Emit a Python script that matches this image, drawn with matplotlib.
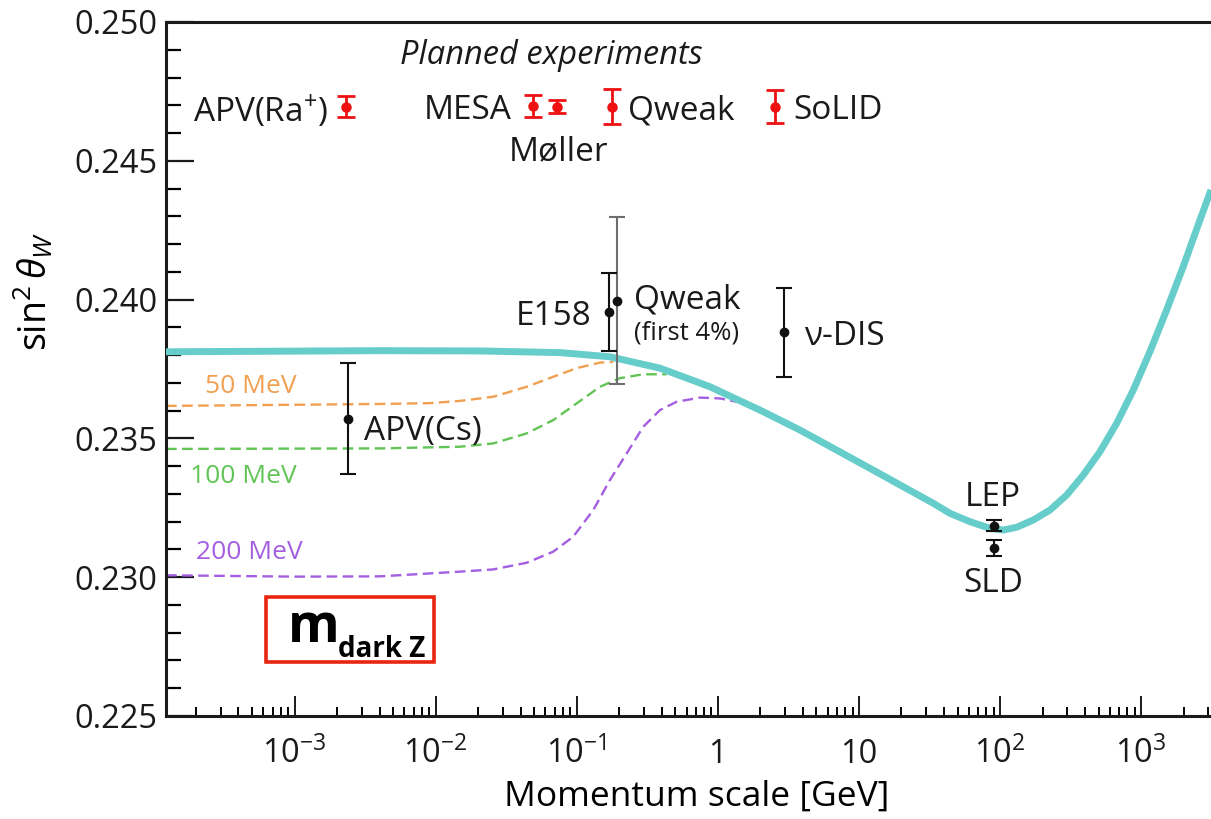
import numpy as np
import matplotlib
matplotlib.use('Agg')
import matplotlib.pyplot as plt
from matplotlib.ticker import FixedLocator, MultipleLocator, LogLocator, NullFormatter, FormatStrFormatter
from matplotlib.patches import Rectangle

plt.rcParams['font.family'] = ['Open Sans', 'DejaVu Sans']
plt.rcParams['mathtext.fontset'] = 'custom'
plt.rcParams['mathtext.rm'] = 'Open Sans'
plt.rcParams['mathtext.it'] = 'Open Sans:italic'
plt.rcParams['mathtext.bf'] = 'Open Sans:bold'
plt.rcParams['text.color'] = '#1a1a1a'

# SM running of the weak mixing angle (Q [GeV], sin^2)
sm_q = [1.2265e-4, 4.0e-3, 0.0206, 0.0760, 0.1718, 0.3887, 0.879, 1.986, 3.82, 11.4,
        33.7, 44.2, 61.2, 84.8, 105.5, 131.3, 171.9, 225.8, 296.6, 388.9, 510.5,
        670.0, 879.2, 1153, 1517, 1987, 2612, 3126]
sm_s2 = [0.23812, 0.23816, 0.23815, 0.23809, 0.23794, 0.23753, 0.23686, 0.23602,
         0.23530, 0.23398, 0.23266, 0.23230, 0.23200, 0.23176, 0.23170, 0.23180,
         0.23206, 0.23242, 0.23296, 0.23368, 0.23452, 0.23554, 0.23674, 0.23812,
         0.23963, 0.24119, 0.24287, 0.24395]

# dark Z modified curves
dz50_q = [1.2265e-4, 4.03e-3, 9.1e-3, 0.01486, 0.02559, 0.04414, 0.06813, 0.0997,
          0.1459, 0.1815]
dz50_s2 = [0.23617, 0.23624, 0.23627, 0.23635, 0.23650, 0.23686, 0.23722, 0.23753,
           0.23773, 0.23776]

dz100_q = [1.2265e-4, 4.03e-3, 0.01486, 0.02559, 0.04414, 0.06813, 0.0997, 0.1459,
           0.2023, 0.296, 0.4335]
dz100_s2 = [0.23462, 0.23464, 0.23470, 0.23482, 0.23518, 0.23566, 0.23626, 0.23686,
            0.23717, 0.23731, 0.23731]

dz200_q = [1.2265e-4, 1.0e-3, 4.03e-3, 0.01486, 0.02559, 0.04414, 0.06813, 0.0944,
           0.1309, 0.1718, 0.2258, 0.2960, 0.3887, 0.5106, 0.7466, 1.035, 1.358]
dz200_s2 = [0.23007, 0.23002, 0.23003, 0.23020, 0.23028, 0.23052, 0.23092, 0.23146,
            0.23242, 0.23350, 0.23446, 0.23542, 0.23602, 0.23632, 0.23647, 0.23644,
            0.23632]

# measurements
meas_names = ['APV(Cs)', 'E158', 'vDIS', 'LEP', 'SLD']
meas_q = [2.4e-3, 0.170, 2.95, 90.0, 90.0]
meas_s2 = [0.2357, 0.23956, 0.23882, 0.23186, 0.23105]
meas_err = [0.0020, 0.0014, 0.0016, 0.00021, 0.00028]

qweak_q = 0.192
qweak_s2 = 0.23996
qweak_err = 0.0030

# planned experiments
plan_names = ['APV(Ra+)', 'MESA', 'Moller', 'Qweak', 'SoLID']
plan_q = [2.3e-3, 0.0487, 0.072, 0.177, 2.54]
plan_s2 = [0.24695, 0.24697, 0.24695, 0.24695, 0.24695]
plan_err = [0.00039, 0.00041, 0.00023, 0.00063, 0.0006]

xtick_vals = [1e-3, 1e-2, 1e-1, 1, 10, 1e2, 1e3]
xtick_text = [r'$10^{-3}$', r'$10^{-2}$', r'$10^{-1}$', '1', '10', r'$10^{2}$', r'$10^{3}$']

fig = plt.figure(figsize=(12.11, 8.19), dpi=100)
ax = fig.add_axes([166/1211., 1-716/819., 1045/1211., 694/819.])

dash = (0, (4.5, 2.3))
ax.plot(dz50_q, dz50_s2, color='#f0a050', lw=1.7, ls=dash, zorder=2)
ax.plot(dz100_q, dz100_s2, color='#62c456', lw=1.7, ls=dash, zorder=2)
ax.plot(dz200_q, dz200_s2, color='#a45ee0', lw=1.7, ls=dash, zorder=2)
ax.plot(sm_q, sm_s2, color='#66cdcb', lw=5, solid_capstyle='butt',
        solid_joinstyle='round', zorder=3)

ax.errorbar(meas_q, meas_s2, yerr=meas_err, fmt='o', color='#111111', ms=6,
            lw=1.5, capsize=5.5, capthick=1.5, zorder=5)
ax.errorbar([qweak_q], [qweak_s2], yerr=[qweak_err], fmt='none', ecolor='#6e6e6e',
            lw=1.5, capsize=5.5, capthick=1.5, zorder=4)
ax.plot([qweak_q], [qweak_s2], 'o', color='#111111', ms=6, zorder=5)

ax.errorbar(plan_q, plan_s2, yerr=plan_err, fmt='o', color='#ee1111', ms=6.5,
            lw=2, capsize=6.5, capthick=2, zorder=5)

ax.set_xscale('log')
ax.set_xlim(1.2265e-4, 3126)
ax.set_ylim(0.225, 0.250)

ax.xaxis.set_major_locator(FixedLocator(xtick_vals))
ax.xaxis.set_minor_locator(LogLocator(base=10, subs=np.arange(2, 10), numticks=30))
ax.xaxis.set_minor_formatter(NullFormatter())
ax.set_xticklabels(xtick_text, va='baseline')
ax.yaxis.set_major_locator(MultipleLocator(0.005))
ax.yaxis.set_minor_locator(MultipleLocator(0.001))
ax.yaxis.set_major_formatter(FormatStrFormatter('%.3f'))

ax.tick_params(axis='x', which='major', direction='in', length=14.5, width=1.4,
               labelsize=23.5, pad=34, top=False, colors='#1a1a1a')
ax.tick_params(axis='x', which='minor', direction='in', length=6.5, width=1.4, top=False)
ax.tick_params(axis='y', which='major', direction='in', length=20, width=1.6,
               labelsize=23.5, pad=6, right=False, colors='#1a1a1a')
ax.tick_params(axis='y', which='minor', direction='in', length=11, width=1.6, right=False)

ax.spines['right'].set_visible(False)
for s in ['left', 'top', 'bottom']:
    ax.spines[s].set_linewidth(2.2)
    ax.spines[s].set_color('#1a1a1a')

ax.set_xlabel('Momentum scale [GeV]', fontsize=25.5)
ax.xaxis.set_label_coords((697-166)/1045., -0.092)
ax.set_ylabel(r'$\mathrm{sin}^2\,\theta_W$', fontsize=27)
ax.yaxis.set_label_coords(-0.106, 0.612)

fs = 24
ax.text(0.0656, 0.24881, 'Planned experiments', style='italic', fontsize=23.5,
        ha='center', va='center')
ax.text(1.73e-3, 0.24694, r'APV(Ra$^{+}$)', fontsize=fs, ha='right', va='center_baseline')
ax.text(0.0348, 0.24694, 'MESA', fontsize=fs, ha='right', va='center_baseline')
ax.text(0.0748, 0.24546, 'Møller', fontsize=fs, ha='center', va='center_baseline')
ax.text(0.231, 0.24694, 'Qweak', fontsize=fs, ha='left', va='center_baseline')
ax.text(3.40, 0.24694, 'SoLID', fontsize=fs, ha='left', va='center_baseline')

ax.text(0.128, 0.23952, 'E158', fontsize=fs, ha='right', va='center_baseline')
ax.text(0.255, 0.24013, 'Qweak', fontsize=fs, ha='left', va='center_baseline')
ax.text(0.255, 0.23890, '(first 4%)', fontsize=18.5, ha='left', va='center_baseline')
ax.text(4.08, 0.23880, 'ν-DIS', fontsize=fs, ha='left', va='center_baseline')
ax.text(3.10e-3, 0.23541, 'APV(Cs)', fontsize=fs, ha='left', va='center_baseline')
ax.text(89, 0.23303, 'LEP', fontsize=fs, ha='center', va='center_baseline')
ax.text(89, 0.22990, 'SLD', fontsize=fs, ha='center', va='center_baseline')

ax.text(2.32e-4, 0.23696, '50 MeV', fontsize=19, color='#f0a050', ha='left', va='center_baseline')
ax.text(1.82e-4, 0.23372, '100 MeV', fontsize=19, color='#62c456', ha='left', va='center_baseline')
ax.text(2.0e-4, 0.23098, '200 MeV', fontsize=19, color='#a45ee0', ha='left', va='center_baseline')

# dark Z mass key
ax.add_patch(Rectangle((100/1045., 54/694.), 168/1045., 65/694., transform=ax.transAxes,
                       fill=False, edgecolor='#e8260f', lw=2.6, zorder=6))
ax.text(0.1167, 0.1071, 'm', transform=ax.transAxes, fontsize=38, fontweight='bold',
        color='black', ha='left', va='baseline')
ax.text(0.1646, 0.0854, 'dark Z', transform=ax.transAxes, fontsize=20, fontweight='bold',
        color='black', ha='left', va='baseline')

fig.savefig('out.png', dpi=100)
